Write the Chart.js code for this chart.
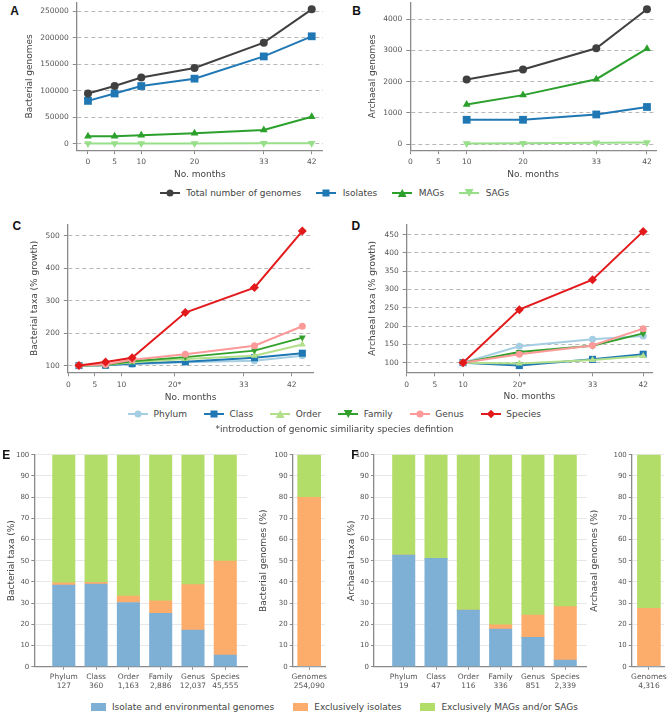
<!DOCTYPE html>
<html><head><meta charset="utf-8">
<script src="https://cdn.jsdelivr.net/npm/chart.js@4.4.0/dist/chart.umd.min.js"></script>
<style>
html,body{margin:0;padding:0;background:#fff;}
#fig{position:relative;width:669px;height:714px;overflow:hidden;font-family:"DejaVu Sans",sans-serif;color:#444;background:#fff;}
.cv{position:absolute;}
.lbl{position:absolute;font-family:"Liberation Sans",Arial,sans-serif;font-weight:bold;font-size:12px;line-height:12px;color:#111;}
.legend{position:absolute;left:0;width:669px;height:12px;display:flex;justify-content:center;align-items:center;font-size:9px;line-height:12px;color:#444;white-space:nowrap;}
.item{display:flex;align-items:center;}
.mk{position:relative;width:20px;height:10px;}
.mk .ln{position:absolute;left:0;top:4px;width:20px;height:2px;}
.mk .pt{position:absolute;left:50%;top:50%;}
.sw{width:15px;height:8px;margin-right:6px;}
</style>
</head><body>
<div id="fig"></div>
<script>
// ---------------- DATA ----------------
const monthTicks = [0, 5, 10, 20, 33, 42];
const monthTickLabels = ['0', '5', '10', '20', '33', '42'];
const monthTickLabelsStar = ['0', '5', '10', '20*', '33', '42'];

// Panel A: bacterial genomes
const bactMonths = [0, 5, 10, 20, 33, 42];
const bactTotal = [95000, 109000, 125000, 143000, 191000, 254000];
const bactIsolates = [81000, 95000, 109000, 123000, 165000, 203000];
const bactMAGs = [14000, 14000, 16000, 20000, 26000, 51000];
const bactSAGs = [500, 500, 600, 700, 800, 900];

// Panel B: archaeal genomes
const archMonths = [10, 20, 33, 42];
const archTotal = [2070, 2390, 3070, 4320];
const archIsolates = [780, 780, 950, 1190];
const archMAGs = [1270, 1570, 2080, 3060];
const archSAGs = [20, 30, 40, 50];

// Panel C: bacterial taxa (% growth) - plotted positions as in original figure
const bactTaxaMonths = [2, 7, 12, 22, 35, 44];
const bactPhylum = [100, 101, 104, 110, 115, 130];
const bactClass = [100, 101, 106, 112, 124, 138];
const bactOrder = [100, 102, 110, 120, 130, 165];
const bactFamily = [100, 102, 113, 126, 146, 186];
const bactGenus = [100, 103, 118, 135, 161, 221];
const bactSpecies = [100, 111, 124, 263, 340, 514];

// Panel D: archaeal taxa (% growth)
const archTaxaMonths = [10, 20, 33, 42];
const archPhylum = [100, 145, 164, 173];
const archClass = [100, 92, 109, 123];
const archOrder = [100, 98, 107, 118];
const archFamily = [100, 129, 146, 180];
const archGenus = [100, 123, 147, 193];
const archSpecies = [100, 245, 327, 459];

// Panels E/F: composition (%)
const taxRanks = ['Phylum', 'Class', 'Order', 'Family', 'Genus', 'Species'];
const bactRankCounts = ['127', '360', '1,163', '2,886', '12,037', '45,555'];
const archRankCounts = ['19', '47', '116', '336', '851', '2,339'];
const bactShared = [38.5, 39.0, 30.3, 25.2, 17.3, 5.5];
const bactIsoOnly = [1.1, 0.8, 3.0, 5.9, 21.4, 44.3];
const bactMagOnly = [60.4, 60.2, 66.7, 68.9, 61.3, 50.2];
const archShared = [52.7, 51.1, 26.7, 17.8, 13.8, 3.1];
const archIsoOnly = [0, 0, 0, 1.9, 10.6, 25.2];
const archMagOnly = [47.3, 48.9, 73.3, 80.3, 75.6, 71.7];
const genomeLabel = ['Genomes'];
const bactGenomeCount = ['254,090'];
const archGenomeCount = ['4,316'];
const bactGenomeShared = [0];
const bactGenomeIso = [79.9];
const bactGenomeMag = [20.1];
const archGenomeShared = [0];
const archGenomeIso = [27.5];
const archGenomeMag = [72.5];

const genomeSeries = ['Total number of genomes', 'Isolates', 'MAGs', 'SAGs'];
const taxaSeries = ['Phylum', 'Class', 'Order', 'Family', 'Genus', 'Species'];
const barSeries = ['Isolate and environmental genomes', 'Exclusively isolates', 'Exclusively MAGs and/or SAGs'];

// ---------------- STYLE ----------------
const genomeColors = ['#404040', '#1f77b4', '#2ca02c', '#98df8a'];
const genomeShapes = ['circle', 'rect', 'triangle', 'triangleDown'];
const taxaColors = ['#a6cee3', '#1f78b4', '#b2df8a', '#33a02c', '#fb9a99', '#e31a1c'];
const taxaShapes = ['circle', 'rect', 'triangle', 'triangleDown', 'circle', 'rectRot'];
const barColors = ['#7eb0d5', '#fdad6b', '#b3dd69'];
const AX = '#8a8a8a', TICK = '#555', TITLE = '#444';

Chart.defaults.font.family = '"DejaVu Sans", sans-serif';
Chart.defaults.animation = false;
Chart.defaults.plugins.legend.display = false;
Chart.defaults.plugins.tooltip.enabled = false;

const fig = document.getElementById('fig');

function mkCanvas(plot, yTitleX, xTitleY) {
  const lh = 9 * 1.2;
  const cl = Math.floor(yTitleX - lh / 2);
  const ct = Math.floor(plot.T - 14);
  const cr = Math.ceil(plot.R + 16);
  const cb = Math.ceil(xTitleY + lh / 2);
  const c = document.createElement('canvas');
  c.width = cr - cl; c.height = cb - ct;
  c.className = 'cv';
  c.style.left = cl + 'px'; c.style.top = ct + 'px';
  c.style.width = (cr - cl) + 'px'; c.style.height = (cb - ct) + 'px';
  fig.appendChild(c);
  return {el: c, yW: plot.L - cl, xH: cb - plot.B, padTop: plot.T - ct, padRight: cr - plot.R,
          yTitlePad: (yTitleX - lh / 2) - cl, xTitlePad: cb - lh / 2 - xTitleY};
}

function yAxis(pl, min, max, vals, title, o) {
  return {
    type: 'linear', min, max, position: 'left', stacked: !!o.stacked,
    afterBuildTicks: s => { s.ticks = vals.map(v => ({value: v})); },
    afterFit: s => { s.width = pl.yW; },
    grid: {color: o.dashed ? '#b8b8b8' : '#e8e8e8', lineWidth: 1, drawTicks: true, tickLength: o.tickLen,
           tickColor: AX, tickWidth: 1, tickBorderDash: []},
    border: {display: true, color: AX, width: 1.3, dash: o.dashed ? [4, 3] : []},
    ticks: {color: TICK, font: {size: o.fs}, padding: o.pad, callback: v => String(v)},
    title: {display: true, text: title, color: TITLE, font: {size: 9}, padding: {top: pl.yTitlePad, bottom: 0}}
  };
}

function xAxis(pl, min, max, vals, labelFn, title, o) {
  return {
    type: 'linear', min, max, position: 'bottom', offset: false, stacked: !!o.stacked,
    afterBuildTicks: s => { s.ticks = vals.map(v => ({value: v})); },
    afterFit: s => { s.height = pl.xH; },
    grid: {display: true, drawOnChartArea: false, drawTicks: true, tickLength: o.tickLen, tickColor: AX, offset: false},
    border: {display: true, color: AX, width: 1.3},
    ticks: {color: TICK, font: {size: 7.5, lineHeight: 1.15}, padding: o.pad, maxRotation: 0, autoSkip: false,
            callback: v => labelFn(v)},
    title: {display: !!title, text: title || '', color: TITLE, font: {size: 9}, padding: {top: 0, bottom: pl.xTitlePad}}
  };
}

function ptOpts(shape, r) {
  if (shape === 'triangleDown') return {pointStyle: 'triangle', pointRotation: 180, pointRadius: r + 0.5};
  if (shape === 'rect') return {pointStyle: 'rect', pointRotation: 0, pointRadius: r + 1.5};
  if (shape === 'triangle') return {pointStyle: 'triangle', pointRotation: 0, pointRadius: r + 0.5};
  if (shape === 'rectRot') return {pointStyle: 'rectRot', pointRotation: 0, pointRadius: r + 1};
  return {pointStyle: 'circle', pointRotation: 0, pointRadius: r};
}

function lineDs(label, xs, ys, color, shape, r) {
  return Object.assign({
    label, data: xs.map((x, i) => ({x, y: ys[i]})),
    borderColor: color, backgroundColor: color, pointBackgroundColor: color, pointBorderColor: color,
    pointBorderWidth: 0, borderWidth: 2, tension: 0, clip: false
  }, ptOpts(shape, r));
}

function lineChart(plot, yTitleX, xTitleY, datasets, xr, xLabels, yr, yVals, yTitle) {
  const pl = mkCanvas(plot, yTitleX, xTitleY);
  new Chart(pl.el, {
    type: 'line',
    data: {datasets},
    options: {
      responsive: false, devicePixelRatio: 1,
      layout: {padding: {left: 0, top: pl.padTop, right: pl.padRight, bottom: 0}},
      scales: {
        x: xAxis(pl, xr[0], xr[1], monthTicks, v => xLabels[monthTicks.indexOf(v)], 'No. months', {tickLen: 4, pad: 4}),
        y: yAxis(pl, yr[0], yr[1], yVals, yTitle, {dashed: true, fs: 7.5, tickLen: 4, pad: 4})
      }
    }
  });
}

function barChart(plot, yTitleX, names, counts, series, xr, thick, yTitle) {
  const pl = mkCanvas(plot, yTitleX, plot.B + 26);
  const idx = names.map((n, i) => i);
  new Chart(pl.el, {
    type: 'bar',
    data: {datasets: series.map((s, k) => ({
      label: barSeries[k], data: s.map((v, i) => ({x: i, y: v})),
      backgroundColor: barColors[k], borderWidth: 0, barThickness: thick
    }))},
    options: {
      responsive: false, devicePixelRatio: 1,
      layout: {padding: {left: 0, top: pl.padTop, right: pl.padRight, bottom: 0}},
      scales: {
        x: xAxis(pl, xr[0], xr[1], idx, v => [names[v], counts[v]], null, {tickLen: 3, pad: 3, stacked: true}),
        y: yAxis(pl, 0, 100, [0, 10, 20, 30, 40, 50, 60, 70, 80, 90, 100], yTitle, {dashed: false, fs: 7, tickLen: 3, pad: 2, stacked: true})
      }
    }
  });
}

// ---------------- PANELS ----------------
lineChart({L: 76.8, R: 322.9, T: 2.6, B: 150.2}, 29.3, 175,
  [bactTotal, bactIsolates, bactMAGs, bactSAGs].map((ys, k) => lineDs(genomeSeries[k], bactMonths, ys, genomeColors[k], genomeShapes[k], 4)),
  [-2.1, 44.1], monthTickLabels, [-12175, 266675], [0, 50000, 100000, 150000, 200000, 250000], 'Bacterial genomes');

lineChart({L: 410.3, R: 656, T: 2.6, B: 150.2}, 372.7, 174.5,
  [archTotal, archIsolates, archMAGs, archSAGs].map((ys, k) => lineDs(genomeSeries[k], archMonths, ys, genomeColors[k], genomeShapes[k], 4)),
  [0, 43.6], monthTickLabels, [-195, 4535], [0, 1000, 2000, 3000, 4000], 'Archaeal genomes');

const bactTaxa = [bactPhylum, bactClass, bactOrder, bactFamily, bactGenus, bactSpecies];
const archTaxa = [archPhylum, archClass, archOrder, archFamily, archGenus, archSpecies];
lineChart({L: 67.8, R: 313.5, T: 224.3, B: 372.3}, 34.5, 397.5,
  bactTaxa.map((ys, k) => lineDs(taxaSeries[k], bactTaxaMonths, ys, taxaColors[k], taxaShapes[k], 3.5)).reverse(),
  [-0.1, 46.1], monthTickLabelsStar, [79.3, 534.7], [100, 200, 300, 400, 500], 'Bacterial taxa (% growth)');

lineChart({L: 406.7, R: 652.2, T: 224.3, B: 372.3}, 372.7, 397,
  archTaxa.map((ys, k) => lineDs(taxaSeries[k], archTaxaMonths, ys, taxaColors[k], taxaShapes[k], 3.5)).reverse(),
  [0, 43.6], monthTickLabelsStar, [73.6, 478.4], [100, 150, 200, 250, 300, 350, 400, 450], 'Archaeal taxa (% growth)');

barChart({L: 34.3, R: 247, T: 454.7, B: 666.7}, 11.7, taxRanks, bactRankCounts,
  [bactShared, bactIsoOnly, bactMagOnly], [-0.913, 5.672], 22.4, 'Bacterial taxa (%)');
barChart({L: 292.7, R: 325, T: 454.7, B: 666.7}, 263.3, genomeLabel, bactGenomeCount,
  [bactGenomeShared, bactGenomeIso, bactGenomeMag], [-0.51, 0.49], 23, 'Bacterial genomes (%)');
barChart({L: 374, R: 586.8, T: 454.7, B: 666.7}, 351.7, taxRanks, archRankCounts,
  [archShared, archIsoOnly, archMagOnly], [-0.92, 5.667], 22.4, 'Archaeal taxa (%)');
barChart({L: 631.8, R: 664.1, T: 454.7, B: 666.7}, 595, genomeLabel, archGenomeCount,
  [archGenomeShared, archGenomeIso, archGenomeMag], [-0.53, 0.47], 23, 'Archaeal genomes (%)');

// ---------------- LABELS & LEGENDS ----------------
[['A', 10.2, 5.1], ['B', 352.2, 4.6], ['C', 12.4, 220.1], ['D', 351.4, 220.1], ['E', 2.2, 449.4], ['F', 351.2, 449.4]]
  .forEach(([t, x, y]) => { const d = document.createElement('div'); d.className = 'lbl'; d.textContent = t;
    d.style.left = x + 'px'; d.style.top = y + 'px'; fig.appendChild(d); });

function markerEl(color, shape) {
  const m = document.createElement('div'); m.className = 'mk';
  const ln = document.createElement('div'); ln.className = 'ln'; ln.style.background = color; m.appendChild(ln);
  const p = document.createElement('div'); p.className = 'pt'; p.style.background = color;
  let w = 7, h = 7, tr = 'translate(-50%,-50%)';
  if (shape === 'circle') p.style.borderRadius = '50%';
  if (shape === 'triangle') { w = 9; h = 8; p.style.clipPath = 'polygon(50% 0,100% 100%,0 100%)'; }
  if (shape === 'triangleDown') { w = 9; h = 8; p.style.clipPath = 'polygon(0 0,100% 0,50% 100%)'; }
  if (shape === 'rectRot') { w = 6; h = 6; tr += ' rotate(45deg)'; }
  p.style.width = w + 'px'; p.style.height = h + 'px'; p.style.transform = tr;
  m.appendChild(p);
  return m;
}

function lineLegend(top, names, colors, shapes, gap, txtGap) {
  const L = document.createElement('div'); L.className = 'legend'; L.style.top = top + 'px';
  names.forEach((n, i) => {
    const it = document.createElement('div'); it.className = 'item'; it.style.margin = '0 ' + (gap / 2) + 'px';
    const m = markerEl(colors[i], shapes[i]); m.style.marginRight = txtGap + 'px';
    it.appendChild(m);
    const s = document.createElement('span'); s.textContent = n; it.appendChild(s);
    L.appendChild(it);
  });
  fig.appendChild(L);
}
lineLegend(187, genomeSeries, genomeColors, genomeShapes, 15, 6.5);
lineLegend(408, taxaSeries, taxaColors, taxaShapes, 17, 5.5);

const fn = document.createElement('div'); fn.className = 'legend'; fn.style.top = '423px';
fn.textContent = '*introduction of genomic similiarity species defintion'; fig.appendChild(fn);

const BL = document.createElement('div'); BL.className = 'legend'; BL.style.top = '701px';
barSeries.forEach((n, i) => {
  const it = document.createElement('div'); it.className = 'item'; it.style.margin = '0 9.5px';
  const sw = document.createElement('div'); sw.className = 'sw'; sw.style.background = barColors[i]; it.appendChild(sw);
  const s = document.createElement('span'); s.textContent = n; it.appendChild(s);
  BL.appendChild(it);
});
fig.appendChild(BL);
</script>
</body></html>
